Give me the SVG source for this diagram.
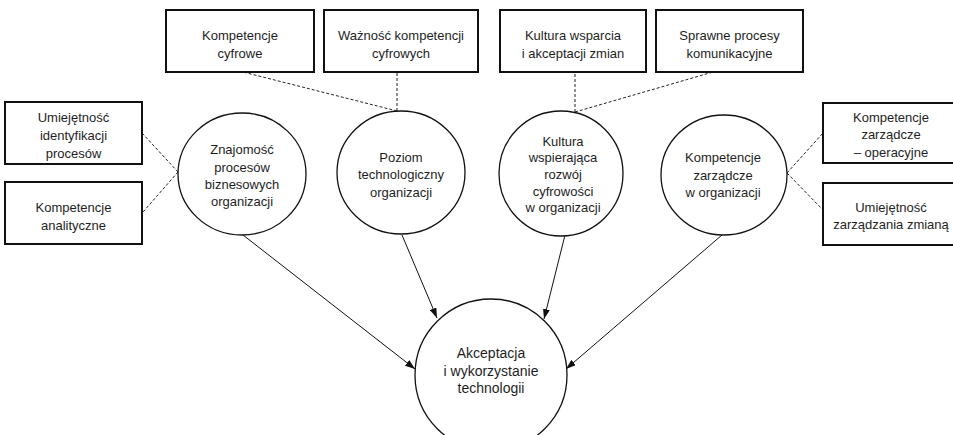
<svg xmlns="http://www.w3.org/2000/svg" width="953" height="435" viewBox="0 0 953 435">
  <style>
    .box { fill: #ffffff; stroke: #111111; stroke-width: 2; }
    .node { fill: #ffffff; stroke: #111111; stroke-width: 1.3; }
    .lbl { font-family: "Liberation Sans", Arial, sans-serif; font-size: 13px; fill: #1e1e1e; text-anchor: middle; }
    .big { font-size: 14px; }
    .dash { fill: none; stroke: #222222; stroke-width: 1; stroke-dasharray: 3 2; }
    .arrow { fill: none; stroke: #111111; stroke-width: 1; marker-end: url(#head); }
  </style>
  <defs>
    <marker id="head" viewBox="0 0 10 7" refX="10" refY="3.5" markerWidth="10" markerHeight="7" markerUnits="userSpaceOnUse" orient="auto">
      <path d="M0,0 L10,3.5 L0,7 z" fill="#111111"/>
    </marker>
  </defs>

  <rect width="953" height="435" fill="#ffffff"/>

  <!-- connectors -->
  <g id="connectors">
    <line class="dash" x1="178" y1="172" x2="142" y2="133"/>
    <line class="dash" x1="178" y1="172" x2="143" y2="212"/>
    <line class="dash" x1="397" y1="111" x2="243" y2="72"/>
    <line class="dash" x1="397" y1="111" x2="397" y2="72"/>
    <line class="dash" x1="575" y1="112" x2="575" y2="72"/>
    <line class="dash" x1="575" y1="112" x2="713" y2="72"/>
    <line class="dash" x1="787" y1="173" x2="823" y2="133"/>
    <line class="dash" x1="787" y1="173" x2="823" y2="210"/>
    <line class="arrow" x1="243" y1="235" x2="415" y2="369"/>
    <line class="arrow" x1="402" y1="235" x2="437" y2="318"/>
    <line class="arrow" x1="565" y1="235" x2="544" y2="319"/>
    <line class="arrow" x1="722" y1="235" x2="566" y2="369"/>
  </g>

  <!-- boxes -->
  <g id="umiejetnosc-identyfikacji">
    <rect class="box" x="5" y="102" width="137" height="62"/>
    <text class="lbl" x="73.5" y="122">Umiejętność</text>
    <text class="lbl" x="73.5" y="140">identyfikacji</text>
    <text class="lbl" x="73.5" y="158">procesów</text>
  </g>
  <g id="kompetencje-analityczne">
    <rect class="box" x="5" y="182" width="137" height="62"/>
    <text class="lbl" x="73.5" y="212">Kompetencje</text>
    <text class="lbl" x="73.5" y="230">analityczne</text>
  </g>
  <g id="kompetencje-cyfrowe">
    <rect class="box" x="166" y="10" width="148" height="62"/>
    <text class="lbl" x="240" y="40">Kompetencje</text>
    <text class="lbl" x="240" y="58">cyfrowe</text>
  </g>
  <g id="waznosc-kompetencji">
    <rect class="box" x="324" y="10" width="154" height="62"/>
    <text class="lbl" x="401" y="40">Ważność kompetencji</text>
    <text class="lbl" x="401" y="58">cyfrowych</text>
  </g>
  <g id="kultura-wsparcia">
    <rect class="box" x="500" y="10" width="146" height="62"/>
    <text class="lbl" x="573" y="40">Kultura wsparcia</text>
    <text class="lbl" x="573" y="58">i akceptacji zmian</text>
  </g>
  <g id="sprawne-procesy">
    <rect class="box" x="656" y="10" width="147" height="62"/>
    <text class="lbl" x="729.5" y="40">Sprawne procesy</text>
    <text class="lbl" x="729.5" y="58">komunikacyjne</text>
  </g>
  <g id="kompetencje-operacyjne">
    <rect class="box" x="823" y="103" width="137" height="60"/>
    <text class="lbl" x="891" y="122">Kompetencje</text>
    <text class="lbl" x="891" y="139">zarządcze</text>
    <text class="lbl" x="891" y="157">– operacyjne</text>
  </g>
  <g id="umiejetnosc-zarzadzania">
    <rect class="box" x="823" y="183" width="137" height="62"/>
    <text class="lbl" x="891" y="212">Umiejętność</text>
    <text class="lbl" x="891" y="229">zarządzania zmianą</text>
  </g>

  <!-- circles -->
  <g id="znajomosc-procesow">
    <ellipse class="node" cx="242" cy="174" rx="64" ry="61"/>
    <text class="lbl" x="242" y="154">Znajomość</text>
    <text class="lbl" x="242" y="172">procesów</text>
    <text class="lbl" x="242" y="189">biznesowych</text>
    <text class="lbl" x="242" y="206">organizacji</text>
  </g>
  <g id="poziom-technologiczny">
    <ellipse class="node" cx="401" cy="172.5" rx="64" ry="61.5"/>
    <text class="lbl" x="401" y="162">Poziom</text>
    <text class="lbl" x="401" y="179">technologiczny</text>
    <text class="lbl" x="401" y="197">organizacji</text>
  </g>
  <g id="kultura-wspierajaca">
    <ellipse class="node" cx="561" cy="173.5" rx="62" ry="62.5"/>
    <text class="lbl" x="563" y="146">Kultura</text>
    <text class="lbl" x="563" y="162">wspierająca</text>
    <text class="lbl" x="563" y="179">rozwój</text>
    <text class="lbl" x="563" y="196">cyfrowości</text>
    <text class="lbl" x="563" y="212">w organizacji</text>
  </g>
  <g id="kompetencje-zarzadcze">
    <ellipse class="node" cx="724" cy="175" rx="63" ry="60"/>
    <text class="lbl" x="723" y="162">Kompetencje</text>
    <text class="lbl" x="723" y="180">zarządcze</text>
    <text class="lbl" x="723" y="197">w organizacji</text>
  </g>
  <g id="akceptacja">
    <circle class="node" cx="491" cy="375" r="76"/>
    <text class="lbl big" x="491" y="358">Akceptacja</text>
    <text class="lbl big" x="491" y="376">i wykorzystanie</text>
    <text class="lbl big" x="491" y="393">technologii</text>
  </g>
</svg>
